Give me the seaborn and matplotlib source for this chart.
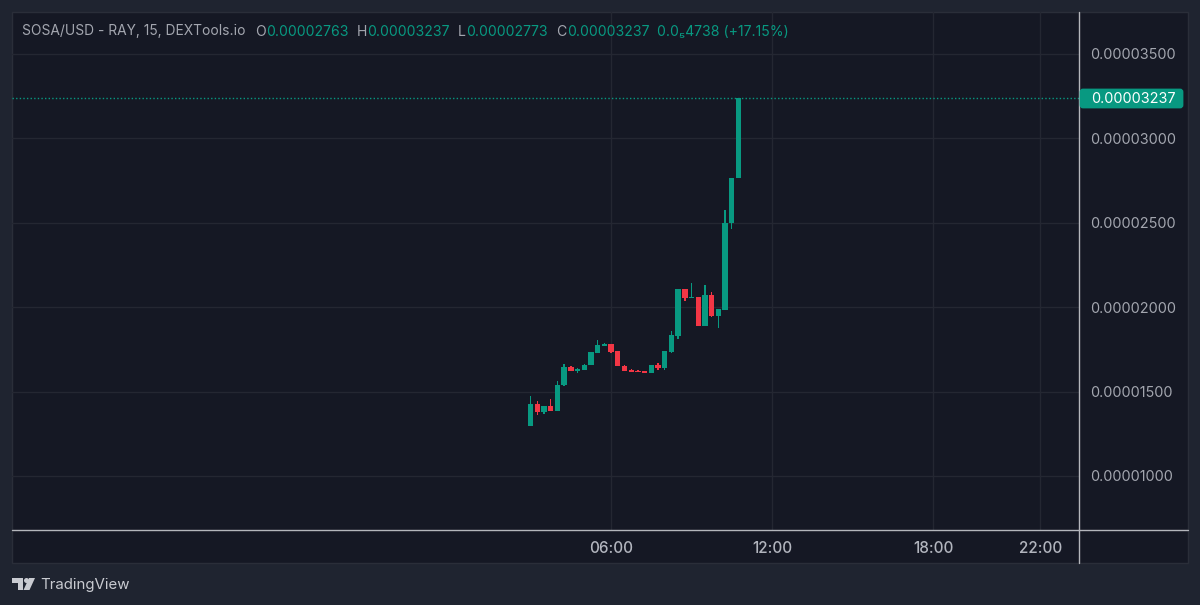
import matplotlib
matplotlib.use('Agg')
import matplotlib.pyplot as plt
import pandas as pd
import seaborn as sns
from matplotlib.lines import Line2D
from matplotlib.patches import Rectangle, FancyBboxPatch, Polygon, Circle
from matplotlib.transforms import Affine2D

# candles de 15 min, preco em unidades de 1e-8
hora_inicio = 3.0
abertura = [1296, 1426, 1379, 1414, 1386, 1537, 1645, 1623, 1629, 1655, 1730, 1772, 1783, 1738, 1653, 1627,
            1621, 1621, 1612, 1657, 1637, 1736, 1831, 2105, 2054, 2062, 1890, 2072, 1949, 1985, 2496, 2763]
maxima = [1473, 1444, 1414, 1458, 1560, 1663, 1649, 1637, 1663, 1732, 1805, 1785, 1783, 1738, 1659, 1633,
          1627, 1621, 1657, 1667, 1738, 1860, 2105, 2105, 2141, 2062, 2131, 2090, 1987, 2575, 2763, 3237]
minima = [1296, 1363, 1367, 1386, 1386, 1531, 1621, 1612, 1627, 1655, 1730, 1770, 1730, 1651, 1623, 1618,
          1618, 1612, 1612, 1627, 1629, 1730, 1813, 2038, 2054, 1890, 1890, 1943, 1876, 1985, 2461, 2763]
fechamento = [1426, 1379, 1414, 1386, 1540, 1645, 1623, 1635, 1657, 1732, 1774, 1783, 1734, 1651, 1623, 1618,
              1618, 1612, 1657, 1637, 1738, 1833, 2105, 2054, 2062, 1890, 2072, 1947, 1987, 2496, 2763, 3237]

precos_ticks = [1000, 1500, 2000, 2500, 3000, 3500]
horas_ticks = [6, 12, 18, 22]
labels_horas = ['06:00', '12:00', '18:00', '22:00']
ultimo_preco = 3237

verde = '#089981'
vermelho = '#F23645'
fundo = '#1F2430'
painel = '#151824'
grade = '#242732'
cinza = '#A3A6AF'

sns.set_style('dark')
plt.rcParams['font.family'] = ['Inter', 'DejaVu Sans']

df = pd.DataFrame({'abertura': abertura, 'maxima': maxima, 'minima': minima, 'fechamento': fechamento})
df['hora'] = [hora_inicio + i * 0.25 for i in range(len(df))]
df['base'] = df[['abertura', 'fechamento']].min(axis=1)
df['corpo'] = (df['fechamento'] - df['abertura']).abs()
df['pavio'] = df['maxima'] - df['minima']
df['alta'] = df['fechamento'] >= df['abertura']

fig = plt.figure(figsize=(12, 6.05), dpi=100, facecolor=fundo)
# coordenadas em pixels da imagem, origem no topo
px = Affine2D().scale(1, -1).translate(0, 605)

fig.add_artist(Rectangle((12, 12), 1176, 551, transform=px, facecolor=painel, edgecolor='#2A2E39', linewidth=1, zorder=-5))

ax = fig.add_axes([12 / 1200, (605 - 530) / 605, 1067.5 / 1200, 518 / 605])
ax.patch.set_alpha(0)

for alta, cor in [(True, verde), (False, vermelho)]:
    parte = df[df['alta'] == alta]
    sns.barplot(data=parte, x='hora', y='pavio', bottom=parte['minima'], native_scale=True, width=0.2 * 0.25 / parte['hora'].diff().min(),
                color=cor, saturation=1, errorbar=None, linewidth=0, ax=ax, zorder=3)
    sns.barplot(data=parte, x='hora', y='corpo', bottom=parte['base'], native_scale=True, width=0.8 * 0.25 / parte['hora'].diff().min(),
                color=cor, saturation=1, errorbar=None, linewidth=0, ax=ax, zorder=4)

ax.axhline(ultimo_preco, color=verde, linewidth=1, linestyle=(0, (1, 1.6)), zorder=2)

ax.set_xlim(-16.33, 23.46)
ax.set_ylim(680, 3748)
ax.set_xlabel('')
ax.set_ylabel('')
ax.yaxis.tick_right()
ax.set_yticks(precos_ticks, [f'{p * 1e-8:.8f}' for p in precos_ticks])
ax.set_xticks(horas_ticks, labels_horas)
ax.tick_params(axis='y', length=0, pad=8, labelsize=10.4, labelcolor=cinza)
ax.tick_params(axis='x', length=0, pad=8, labelsize=11, labelcolor='#B2B5BE')
for rotulo in ax.get_xticklabels():
    rotulo.set_fontweight('medium')
ax.grid(True, color=grade, linewidth=1)
ax.set_axisbelow(True)
for s in ax.spines.values():
    s.set_visible(False)

# eixos claros que atravessam o painel
fig.add_artist(Line2D([1079, 1079], [12, 563], transform=px, color='#B4B6BC', linewidth=1))
fig.add_artist(Line2D([12, 1188], [530, 530], transform=px, color='#B4B6BC', linewidth=1))

# etiqueta do ultimo preco
fig.add_artist(FancyBboxPatch((1081, 90), 101, 17, boxstyle='round,pad=0,rounding_size=2', transform=px,
                              facecolor=verde, edgecolor=verde, linewidth=2, zorder=5))
fig.text(1091, 99, f'{ultimo_preco * 1e-8:.8f}', transform=px, color='white', fontsize=10.4, va='center', zorder=6)

# legenda OHLC no topo
cabecalho = [
    (22, 'SOSA/USD - RAY, 15, DEXTools.io', cinza, 9.95),
    (255, 'O', cinza, 10.1), (266, '0.00002763', verde, 10.1),
    (357, 'H', cinza, 10.1), (367, '0.00003237', verde, 10.1),
    (458, 'L', cinza, 10.1), (466, '0.00002773', verde, 10.1),
    (556, 'C', cinza, 10.1), (567, '0.00003237', verde, 10.1),
    (657, '0.0₅4738 (+17.15%)', verde, 10.1),
]
for x, texto, cor, tamanho in cabecalho:
    fig.text(x, 31.5, texto, transform=px, color=cor, fontsize=tamanho, va='center')

# marca TradingView
logo = '#C9CBD1'
fig.add_artist(Polygon([(12, 578), (23, 578), (23, 590), (17.5, 590), (17.5, 583), (12, 583)], transform=px, facecolor=logo, edgecolor='none'))
fig.add_artist(Circle((26.5, 580.5), 2.5, transform=px, facecolor=logo, edgecolor='none'))
fig.add_artist(Polygon([(29, 578), (35, 578), (29.5, 590), (23.5, 590)], transform=px, facecolor=logo, edgecolor='none'))
fig.text(40, 585, 'TradingView', transform=px, color=logo, fontsize=10.8, va='center')

fig.savefig('out.png', dpi=100, facecolor=fundo)
